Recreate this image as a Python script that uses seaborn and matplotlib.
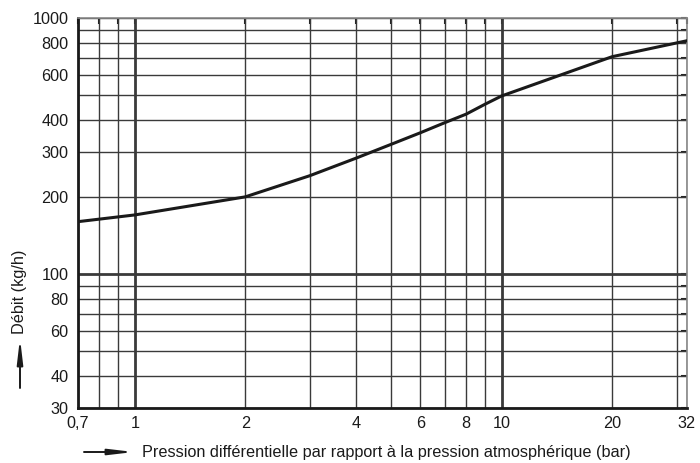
import matplotlib
matplotlib.use("Agg")
import matplotlib.pyplot as plt
import matplotlib.patches as mpatches
import seaborn as sns
import pandas as pd
from matplotlib.ticker import FixedLocator, FixedFormatter, NullLocator

# ---- data ----
pressure = [0.7, 1, 2, 3, 4, 5, 6, 7, 8, 9, 10, 20, 32]
flow = [160, 170, 200, 242, 283, 321, 356, 390, 421, 460, 496, 706, 815]

x_grid = [0.7, 0.8, 0.9, 1, 2, 3, 4, 5, 6, 7, 8, 9, 10, 20, 30, 32]
x_labels = {0.7: "0,7", 1: "1", 2: "2", 4: "4", 6: "6", 8: "8", 10: "10", 20: "20", 32: "32"}
y_grid = [30, 40, 50, 60, 70, 80, 90, 100, 200, 300, 400, 500, 600, 700, 800, 900, 1000]
y_labels = {30: "30", 40: "40", 60: "60", 80: "80", 100: "100", 200: "200",
            300: "300", 400: "400", 600: "600", 800: "800", 1000: "1000"}
x_major = [1, 10]
y_major = [100]

xlabel = "Pression différentielle par rapport à la pression atmosphérique (bar)"
ylabel = "Débit (kg/h)"

df = pd.DataFrame({"p": pressure, "q": flow})

sns.set_theme(style="white")
plt.rcParams["font.family"] = ["Liberation Sans", "DejaVu Sans"]

fig = plt.figure(figsize=(7, 4.63), dpi=100)
ax = fig.add_axes([78 / 700, 1 - 407.7 / 463, (687 - 78) / 700, (407.7 - 18) / 463])
ax.set_xscale("log")
ax.set_yscale("log")
ax.set_xlim(0.7, 32)
ax.set_ylim(30, 1000)

grid_c = "#3a3a3a"
for xv in x_grid:
    ax.axvline(xv, color=grid_c, lw=2.0 if xv in x_major else 1.0, zorder=1)
for yv in y_grid:
    ax.axhline(yv, color=grid_c, lw=2.0 if yv in y_major else 1.0, zorder=1)

sns.lineplot(data=df, x="p", y="q", ax=ax, color="#1a1a1a", lw=2.2, zorder=3)

ax.xaxis.set_major_locator(FixedLocator(x_grid))
ax.xaxis.set_major_formatter(FixedFormatter([x_labels.get(v, "") for v in x_grid]))
ax.xaxis.set_minor_locator(NullLocator())
ax.yaxis.set_major_locator(FixedLocator(y_grid))
ax.yaxis.set_major_formatter(FixedFormatter([y_labels.get(v, "") for v in y_grid]))
ax.yaxis.set_minor_locator(NullLocator())

ax.tick_params(axis="both", which="major", direction="in", length=4, width=1.5,
               color="#222222", labelsize=11.7, labelcolor="#1a1a1a",
               top=True, right=True)
ax.tick_params(axis="x", pad=6)
ax.tick_params(axis="y", pad=7)
ax.set_xlabel("")
ax.set_ylabel("")

for side in ["left", "bottom"]:
    ax.spines[side].set_color("#1a1a1a")
    ax.spines[side].set_linewidth(2.0)
for side in ["top", "right"]:
    ax.spines[side].set_color("#888888")
    ax.spines[side].set_linewidth(1.2)

# axis titles with arrows
fig.text(142 / 700, 11 / 463, xlabel, ha="left", va="center", fontsize=11.7, color="#1a1a1a")
fig.text(20 / 700, 171 / 463, ylabel, ha="center", va="center", rotation=90,
         fontsize=11.7, color="#1a1a1a")
arrow_kw = dict(arrowstyle="-|>,head_length=1.45,head_width=0.17", mutation_scale=10,
                color="#1a1a1a", lw=1.4, shrinkA=0, shrinkB=0)
fig.add_artist(mpatches.FancyArrowPatch((84 / 700, 11 / 463), (134 / 700, 11 / 463),
                                        transform=fig.transFigure, **arrow_kw))
fig.add_artist(mpatches.FancyArrowPatch((20 / 700, 75 / 463), (20 / 700, 125 / 463),
                                        transform=fig.transFigure, **arrow_kw))

fig.savefig("out.png", dpi=100, facecolor="white")
